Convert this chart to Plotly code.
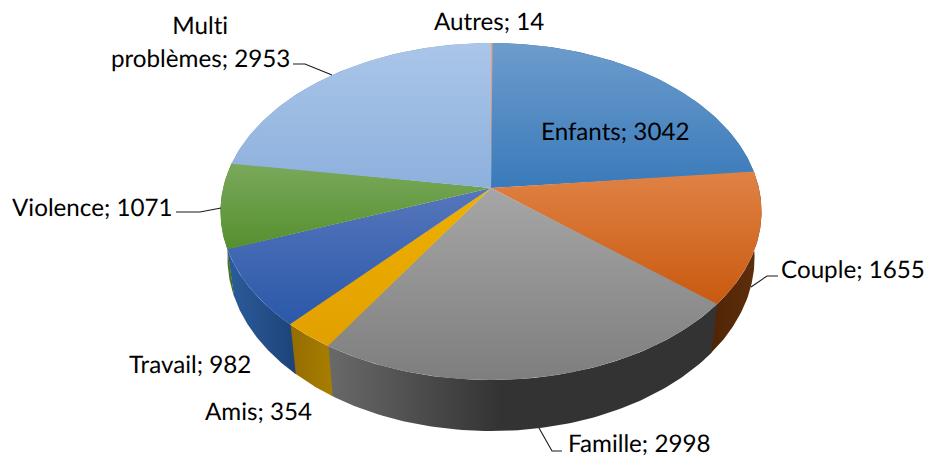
import numpy as np
import plotly.graph_objects as go

# --- data ---
categories = ["Autres", "Enfants", "Couple", "Famille", "Amis", "Travail", "Violence", "Multi problèmes"]
values = [14, 3042, 1655, 2998, 354, 982, 1071, 2953]

# --- style ---
top_colors = [("#e8a080", "#d89070"), ("#6c9ccc", "#3a7aba"), ("#e08245", "#c9590f"), ("#a6a6a6", "#7e7e7e"),
              ("#eeb000", "#e2a000"), ("#5676bb", "#2a58a9"), ("#7aa95c", "#558f2e"), ("#aac6e9", "#8db0dd")]
wall_colors = [("#8a4a20", "#8a4a20"), ("#2c5c9a", "#2c5c9a"), ("#5e2f0c", "#4f2506"), ("#6a6a6a", "#333333"),
               ("#a87e00", "#946c00"), ("#2c5c9c", "#1d4378"), ("#4c7a28", "#3f6a20"), ("#7898c0", "#7898c0")]

# --- projection of the disc on the page ---
CX, CY, SX, SY, P = 491.0, 188.0, 267.9, 165.2, 0.1395
BCY, BSX, BSY = 233.5, 261.0, 170.0
SEAM = 0.006  # small overlap so neighbouring slices leave no hairline


def project(angle, radius, cy, sx, sy):
    X, Y = radius * np.sin(angle), -radius * np.cos(angle)
    w = 1 - P * Y
    return CX + sx * X / w, cy + sy * Y / w


fractions = np.cumsum([0] + values) / sum(values) * 2 * np.pi
last = len(categories) - 1
fig = go.Figure()

# walls
for i, name in enumerate(categories):
    a = np.linspace(fractions[i], fractions[i + 1] + (SEAM if i < last else 0), 80)
    tx, ty = project(a, 1, CY, SX, SY)
    bx, by = project(a, 1, BCY, BSX, BSY)
    x = np.r_[tx, bx[::-1], tx[0]]
    y = np.r_[ty, by[::-1], ty[0]]
    c0, c1 = wall_colors[i]
    fig.add_trace(go.Scatter(
        x=x, y=y, mode="lines", line=dict(width=0), fill="toself", name=name,
        fillgradient=dict(type="horizontal", start=float(x.min()), stop=float(x.max()) if name != "Famille" else 500.0,
                          colorscale=[[0, c1 if name in ("Couple", "Amis") else c0],
                                      [1, c0 if name in ("Couple", "Amis") else c1]]),
        hoverinfo="skip", showlegend=False))

# top faces
for i, name in enumerate(categories):
    a = np.linspace(fractions[i], fractions[i + 1] + (SEAM if i < last else 0), 160)
    rx, ry = project(a, 1, CY, SX, SY)
    x = np.r_[CX, rx, CX]
    y = np.r_[CY, ry, CY]
    c0, c1 = top_colors[i]
    fig.add_trace(go.Scatter(
        x=x, y=y, mode="lines", line=dict(width=0), fill="toself", name=name,
        fillgradient=dict(type="vertical", start=float(y.min()), stop=float(y.max()),
                          colorscale=[[0, c0], [1, c1]]),
        hoverinfo="skip", showlegend=False))

# leader lines
leaders = [([293, 305, 332], [64, 64, 75]), ([778, 767, 751], [276, 276, 287]),
           ([539, 552, 562], [428, 451, 451]), ([221, 200, 176], [208, 212, 212])]
for lx, ly in leaders:
    fig.add_trace(go.Scatter(x=lx, y=ly, mode="lines", line=dict(color="#1a1a1a", width=1.1),
                             hoverinfo="skip", showlegend=False))

# labels
labels = [("Autres; 14", 489, 20), ("Enfants; 3042", 615, 130), ("Couple; 1655", 853, 268),
          ("Famille; 2998", 639, 442.5), ("Amis; 354", 258, 410), ("Travail; 982", 190, 363),
          ("Violence; 1071", 92, 206), ("Multi", 200, 24), ("problèmes; 2953", 200, 57)]
for text, lx, ly in labels:
    fig.add_annotation(x=lx, y=ly, text=text, showarrow=False, xanchor="center", yanchor="middle",
                       font=dict(family="Lato", size=24.2, color="#000000"))

fig.update_layout(width=928, height=458, margin=dict(l=0, r=0, t=0, b=0),
                  paper_bgcolor="white", plot_bgcolor="white", showlegend=False,
                  xaxis=dict(range=[0, 928], visible=False, fixedrange=True),
                  yaxis=dict(range=[458, 0], visible=False, fixedrange=True))
fig.write_html("out.html", config={"displayModeBar": False},
               post_script="document.body.style.margin='0';document.body.style.overflow='hidden';"
                           "var s=document.createElement('style');"
                           "s.textContent='text{font-variant-ligatures:none;font-feature-settings:\"liga\" 0,\"clig\" 0;text-rendering:geometricPrecision}';"
                           "document.head.appendChild(s);")
